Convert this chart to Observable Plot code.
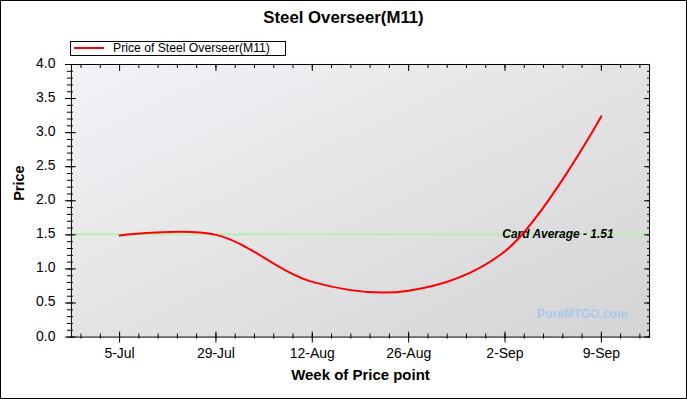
<!DOCTYPE html>
<html>
<head>
<meta charset="utf-8">
<script src="https://cdn.jsdelivr.net/npm/d3@7"></script>
<script src="https://cdn.jsdelivr.net/npm/@observablehq/plot@0.6"></script>
<style>
  html, body { margin: 0; padding: 0; background: #fff; }
  #wrap { position: relative; width: 687px; height: 399px; box-sizing: border-box; border: 1px solid #000; background: #fff; overflow: hidden; font-family: "Liberation Sans", Arial, sans-serif; }
  #title { position: absolute; left: 0; width: 685px; top: 7px; text-align: center; font-weight: bold; font-size: 16.8px; color: #000; }
  #legend { position: absolute; left: 69px; top: 40px; width: 214px; height: 13px; border: 1px solid #000; background: #fff; }
  #legend .swatch { position: absolute; left: 3px; top: 5px; width: 30px; height: 2px; background: #ff0000; }
  #legend .lbl { position: absolute; left: 42px; top: -1px; font-size: 12.2px; line-height: 15px; color: #000; white-space: nowrap; }
  #chart { position: absolute; left: -1px; top: 54px; }
</style>
</head>
<body>
<div id="wrap">
  <div id="title">Steel Overseer(M11)</div>
  <div id="legend"><div class="swatch"></div><div class="lbl">Price of Steel Overseer(M11)</div></div>
  <div id="chart"></div>
</div>
<script>
// Data
const weeks = ["5-Jul", "29-Jul", "12-Aug", "26-Aug", "2-Sep", "9-Sep"];
const prices = [1.49, 1.50, 0.81, 0.68, 1.26, 3.24];
const cardAverage = 1.51;
const yTicks = [0, 0.5, 1.0, 1.5, 2.0, 2.5, 3.0, 3.5, 4.0];
const yMinorTicks = d3.range(0, 41).map(i => i / 10);
const xTicks = weeks.map((w, i) => i);
const xMinorTicks = d3.range(-2, 28).map(i => i / 5);

const data = weeks.map((w, i) => ({i, week: w, price: prices[i]}));

const font = "Liberation Sans, Arial, sans-serif";
const blank = () => "";

const chart = Plot.plot({
  width: 687,
  height: 344,
  marginTop: 9,
  marginLeft: 71,
  marginRight: 37,
  marginBottom: 62,
  style: {fontFamily: font, fontSize: "14px", color: "#000", background: "transparent"},
  x: {type: "linear", domain: [-0.5, 5.5], axis: null},
  y: {domain: [0, 4], axis: null},
  marks: [
    Plot.frame({fill: "url(#bgGrad)", stroke: "none"}),
    Plot.ruleY([cardAverage], {stroke: "#b6f0ae", strokeWidth: 2}),
    Plot.text([`Card Average - ${cardAverage}`], {frameAnchor: "right", y: cardAverage, dx: -36, textAnchor: "end", fontStyle: "italic", fontWeight: "bold", fontSize: 12, fill: "#000"}),
    Plot.text(["PureMTGO.com"], {frameAnchor: "bottom-right", dx: -22, dy: -19, textAnchor: "end", fontWeight: "bold", fontSize: 12, fill: "#a9c9ec"}),
    Plot.line(data, {x: "i", y: "price", curve: "catmull-rom", stroke: "#ff0000", strokeWidth: 2}),
    Plot.frame({stroke: "#000", strokeWidth: 1}),
    // left axis
    Plot.axisY(yTicks, {anchor: "left", tickSize: 11, dx: 5, tickFormat: blank, label: null, stroke: "#000"}),
    Plot.axisY(yMinorTicks, {anchor: "left", tickSize: 6, dx: 2, tickFormat: blank, label: null, stroke: "#000"}),
    Plot.axisY(yTicks, {anchor: "left", tickSize: 0, tickPadding: 16, dy: -1, tickFormat: d3.format(".1f"), label: null, fontSize: 14, fill: "#000"}),
    // right axis (inward ticks)
    Plot.axisY(yTicks, {anchor: "right", tickSize: 6, dx: -6, tickFormat: blank, label: null, stroke: "#000"}),
    Plot.axisY(yMinorTicks, {anchor: "right", tickSize: 3, dx: -3, tickFormat: blank, label: null, stroke: "#000"}),
    // bottom axis
    Plot.axisX(xTicks, {anchor: "bottom", tickSize: 11, dy: -5, tickFormat: blank, label: null, stroke: "#000"}),
    Plot.axisX(xMinorTicks, {anchor: "bottom", tickSize: 5, dy: -3, tickFormat: blank, label: null, stroke: "#000"}),
    Plot.axisX(xTicks, {anchor: "bottom", tickSize: 0, tickPadding: 11, tickFormat: i => weeks[i], label: null, fontSize: 14, fill: "#000"}),
    // top axis (inward ticks)
    Plot.axisX(xTicks, {anchor: "top", tickSize: 6, dy: 6, tickFormat: blank, label: null, stroke: "#000"}),
    Plot.axisX(xMinorTicks, {anchor: "top", tickSize: 3, dy: 3, tickFormat: blank, label: null, stroke: "#000"}),
    // axis titles
    Plot.text(["Week of Price point"], {frameAnchor: "bottom", dy: 43, fontWeight: "bold", fontSize: 15, fill: "#000"}),
    Plot.text(["Price"], {frameAnchor: "left", dx: -52, rotate: -90, fontWeight: "bold", fontSize: 14.5, fill: "#000"})
  ]
});

const defs = d3.select(chart).insert("defs", ":first-child");
const grad = defs.append("linearGradient").attr("id", "bgGrad")
  .attr("x1", "0").attr("y1", "0").attr("x2", "1").attr("y2", "1");
grad.append("stop").attr("offset", "0").attr("stop-color", "#f3f3f7");
grad.append("stop").attr("offset", "1").attr("stop-color", "#d4d4d6");

document.getElementById("chart").appendChild(chart);
</script>
</body>
</html>
